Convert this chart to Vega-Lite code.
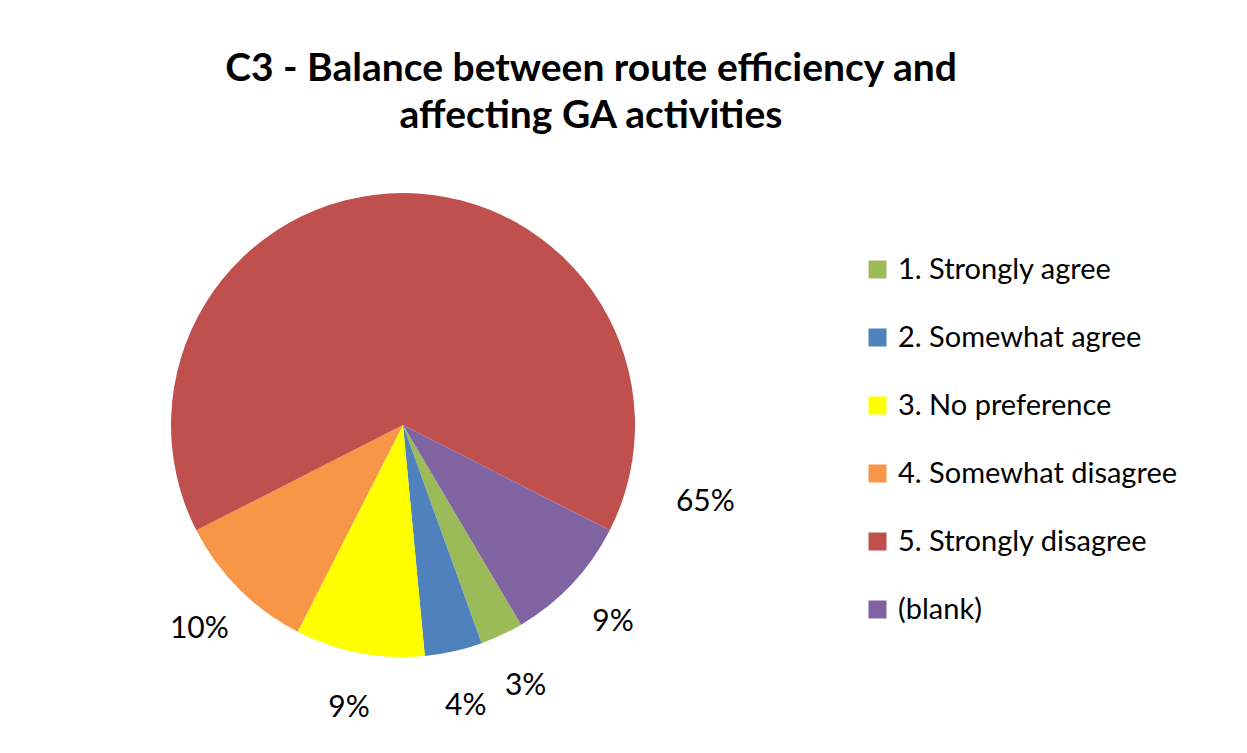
{
  "$schema": "https://vega.github.io/schema/vega-lite/v6.json",
  "width": 788,
  "height": 530,
  "autosize": {"type": "none"},
  "padding": {"left": 9, "top": 160, "right": 450, "bottom": 63},
  "background": "white",
  "config": {
    "view": {"stroke": null},
    "font": "Lato"
  },
  "title": {
    "text": ["C3 - Balance between route efficiency and", "affecting GA activities"],
    "anchor": "middle",
    "frame": "group",
    "dx": 188,
    "dy": 52,
    "offset": 38,
    "font": "Lato",
    "fontSize": 39,
    "fontWeight": "bold",
    "color": "#000000",
    "lineHeight": 47
  },
  "data": {
    "values": [
      {"category": "1. Strongly agree", "value": 0.03, "k": 1},
      {"category": "2. Somewhat agree", "value": 0.04, "k": 2},
      {"category": "3. No preference", "value": 0.09, "k": 3},
      {"category": "4. Somewhat disagree", "value": 0.10, "k": 4},
      {"category": "5. Strongly disagree", "value": 0.65, "k": 5},
      {"category": "(blank)", "value": 0.09, "k": 6}
    ]
  },
  "encoding": {
    "theta": {"field": "value", "type": "quantitative", "stack": true, "scale": {"range": [2.6075, 8.8907]}},
    "order": {"field": "k", "type": "quantitative"}
  },
  "layer": [
    {
      "mark": {"type": "arc", "outerRadius": 232},
      "encoding": {
        "color": {
          "field": "category",
          "type": "nominal",
          "scale": {
            "domain": ["1. Strongly agree", "2. Somewhat agree", "3. No preference", "4. Somewhat disagree", "5. Strongly disagree", "(blank)"],
            "range": ["#9BBB59", "#4F81BD", "#FFFF00", "#F79646", "#C0504D", "#8064A2"]
          },
          "legend": {
            "title": null,
            "orient": "none",
            "legendX": 854,
            "legendY": 95,
            "symbolType": "square",
            "symbolSize": 324,
            "symbolStrokeWidth": 0,
            "labelFontSize": 29,
            "labelFont": "Lato",
            "labelColor": "#000000",
            "labelOffset": 6,
            "rowPadding": 38,
            "labelLimit": 400
          }
        }
      }
    },
    {
      "mark": {"type": "text", "radius": 288, "fontSize": 30, "font": "Lato", "color": "#000000"},
      "encoding": {
        "text": {"field": "value", "type": "quantitative", "format": ".0%"},
        "opacity": {"condition": {"test": "datum.k !== 5", "value": 1}, "value": 0}
      }
    },
    {
      "mark": {"type": "text", "radius": 312, "thetaOffset": 1.82, "fontSize": 30, "font": "Lato", "color": "#000000"},
      "encoding": {
        "text": {"field": "value", "type": "quantitative", "format": ".0%"},
        "opacity": {"condition": {"test": "datum.k === 5", "value": 1}, "value": 0}
      }
    }
  ]
}
